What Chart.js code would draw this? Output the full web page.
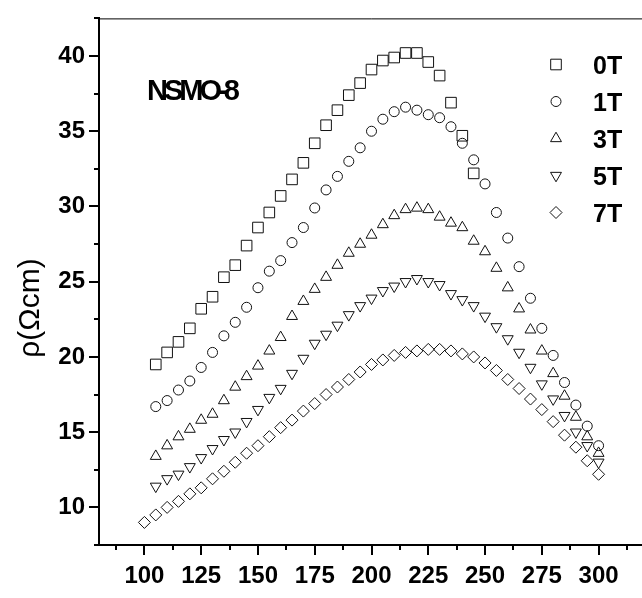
<!DOCTYPE html>
<html>
<head>
<meta charset="utf-8">
<script src="https://cdn.jsdelivr.net/npm/chart.js@4.4.1/dist/chart.umd.min.js"></script>
<style>
html, body { margin: 0; padding: 0; background: #fff; overflow: hidden; }
#caixa { width: 660px; height: 598px; }
</style>
</head>
<body>
<div id="caixa"><canvas id="grafico" width="660" height="598"></canvas></div>
<script>
// Temperatura (K)
const temperaturas = [100, 105, 110, 115, 120, 125, 130, 135, 140, 145, 150, 155, 160, 165, 170, 175, 180, 185, 190, 195,
                      200, 205, 210, 215, 220, 225, 230, 235, 240, 245, 250, 255, 260, 265, 270, 275, 280, 285, 290, 295, 300];

// Resistividade (ohm cm) para cada campo
const rho0T = [null, 19.5, 20.3, 21.0, 21.9, 23.2, 24.0, 25.3, 26.1, 27.4, 28.6, 29.6, 30.7, 31.8, 32.9, 34.2, 35.4, 36.4, 37.4, 38.2,
               39.1, 39.7, 39.9, 40.2, 40.2, 39.6, 38.7, 36.9, 34.7, 32.2, null, null, null, null, null, null, null, null, null, null, null];
const rho1T = [null, 16.7, 17.1, 17.8, 18.4, 19.3, 20.3, 21.4, 22.3, 23.3, 24.6, 25.7, 26.4, 27.6, 28.6, 29.9, 31.1, 32.0, 33.0, 33.9,
               35.0, 35.8, 36.3, 36.6, 36.4, 36.1, 35.9, 35.3, 34.2, 33.1, 31.5, 29.6, 27.9, 26.0, 23.9, 21.9, 20.1, 18.3, 16.8, 15.4, 14.1];
const rho3T = [null, 13.4, 14.1, 14.7, 15.2, 15.8, 16.2, 17.1, 18.0, 18.7, 19.4, 20.4, 21.3, 22.7, 23.7, 24.5, 25.3, 26.1, 26.9, 27.5,
               28.1, 28.8, 29.4, 29.8, 29.9, 29.8, 29.3, 28.9, 28.6, 27.7, 27.0, 25.9, 24.6, 23.2, 21.8, 20.4, 18.9, 17.4, 16.0, 14.7, 13.6];
const rho5T = [null, 11.4, 11.9, 12.2, 12.7, 13.3, 13.9, 14.5, 15.0, 15.7, 16.5, 17.3, 17.9, 18.9, 19.9, 20.9, 21.5, 22.1, 22.8, 23.4,
               23.9, 24.4, 24.7, 25.0, 25.2, 25.0, 24.8, 24.2, 23.8, 23.4, 22.7, 22.0, 21.2, 20.3, 19.3, 18.2, 17.2, 16.1, 15.0, 14.1, 13.0];
const rho7T = [9.0, 9.5, 10.0, 10.4, 10.9, 11.3, 11.9, 12.4, 13.0, 13.6, 14.1, 14.7, 15.3, 15.8, 16.4, 16.9, 17.5, 18.0, 18.5, 19.0,
               19.5, 19.8, 20.1, 20.3, 20.4, 20.5, 20.5, 20.4, 20.2, 20.0, 19.6, 19.1, 18.5, 17.9, 17.2, 16.5, 15.7, 14.8, 14.0, 13.1, 12.2];

const nomesSeries = ['0T', '1T', '3T', '5T', '7T'];

// Marcas dos eixos (maiores com rotulo, menores sem)
const ticksX = [87.5, 100, 112.5, 125, 137.5, 150, 162.5, 175, 187.5, 200, 212.5, 225, 237.5, 250, 262.5, 275, 287.5, 300, 312.5];
const ticksY = [7.5, 10, 12.5, 15, 17.5, 20, 22.5, 25, 27.5, 30, 32.5, 35, 37.5, 40, 42.5];

const fonte = "'Liberation Sans', Arial, sans-serif";

function pontos(valores) {
    const lista = [];
    valores.forEach((v, i) => {
        if (v !== null) lista.push({ x: temperaturas[i], y: v });
    });
    return lista;
}

const estilos = [
    { pointStyle: 'rect',     radius: 7.5, rotation: 0 },
    { pointStyle: 'circle',   radius: 5,   rotation: 0 },
    { pointStyle: 'triangle', radius: 6.3, rotation: 0 },
    { pointStyle: 'triangle', radius: 6.3, rotation: 180 },
    { pointStyle: 'rectRot',  radius: 6,   rotation: 0 }
];

const valores = [rho0T, rho1T, rho3T, rho5T, rho7T];

const datasets = valores.map((serie, i) => ({
    label: nomesSeries[i],
    data: pontos(serie),
    showLine: false,
    pointStyle: estilos[i].pointStyle,
    pointRadius: estilos[i].radius,
    pointRotation: estilos[i].rotation,
    pointBorderWidth: 1,
    pointBorderColor: '#111',
    pointBackgroundColor: 'rgba(0,0,0,0)'
}));

// Desenha marcas, moldura, legenda e textos
const extras = {
    id: 'extras',
    afterDraw(chart) {
        const ctx  = chart.ctx;
        const area = chart.chartArea;
        const sx   = chart.scales.x;
        const sy   = chart.scales.y;

        ctx.save();
        ctx.strokeStyle = '#000';

        // moldura superior e direita
        ctx.lineWidth = 1;
        ctx.beginPath();
        ctx.moveTo(area.left, area.top + 0.5);
        ctx.lineTo(area.right - 0.5, area.top + 0.5);
        ctx.lineTo(area.right - 0.5, area.bottom);
        ctx.stroke();

        // marcas
        ctx.lineWidth = 2;
        sx.ticks.forEach(t => {
            const px  = Math.round(sx.getPixelForValue(t.value));
            const len = t.value % 25 === 0 ? 10 : 5;
            ctx.beginPath();
            ctx.moveTo(px, area.bottom);
            ctx.lineTo(px, area.bottom + len);
            ctx.stroke();
        });
        sy.ticks.forEach(t => {
            const py  = Math.round(sy.getPixelForValue(t.value));
            const len = t.value % 5 === 0 ? 10 : 5;
            ctx.beginPath();
            ctx.moveTo(area.left, py);
            ctx.lineTo(area.left - len, py);
            ctx.stroke();
        });

        // legenda
        nomesSeries.forEach((nome, i) => {
            const y = 64.5 + 37 * i;
            ctx.strokeStyle = '#111';
            ctx.fillStyle = 'rgba(0,0,0,0)';
            ctx.lineWidth = 1;
            Chart.helpers.drawPoint(ctx, {
                pointStyle: estilos[i].pointStyle,
                radius: estilos[i].radius,
                rotation: estilos[i].rotation,
                borderWidth: 1
            }, 556, y);
            ctx.fillStyle = '#000';
            ctx.font = 'bold 25px ' + fonte;
            ctx.textAlign = 'left';
            ctx.textBaseline = 'alphabetic';
            ctx.fillText(nome, 593, y + 9);
        });

        // nome da amostra
        ctx.fillStyle = '#000';
        ctx.font = 'bold 29px ' + fonte;
        ctx.letterSpacing = '-4px';
        ctx.textAlign = 'left';
        ctx.fillText('NSMO-8', 147, 100);
        ctx.letterSpacing = '0px';

        // titulo do eixo y
        ctx.translate(31, 308);
        ctx.rotate(-Math.PI / 2);
        ctx.font = '30px ' + fonte;
        ctx.textAlign = 'center';
        ctx.textBaseline = 'middle';
        ctx.fillText('ρ(Ωcm)', 0, 0);

        ctx.restore();
    }
};

const ctxGrafico = document.getElementById('grafico').getContext('2d');
new Chart(ctxGrafico, {
    type: 'scatter',
    data: { datasets: datasets },
    plugins: [extras],
    options: {
        responsive: false,
        animation: false,
        layout: { padding: { left: 0, top: 9, right: 16, bottom: 0 } },
        plugins: {
            legend:  { display: false },
            tooltip: { enabled: false }
        },
        scales: {
            x: {
                type: 'linear',
                min: 80,
                max: 320,
                afterFit: s => { s.height = 53; },
                afterBuildTicks: s => { s.ticks = ticksX.map(v => ({ value: v })); },
                border: { display: true, width: 2, color: '#000' },
                grid: { display: true, drawOnChartArea: false, drawTicks: true, tickLength: 10,
                        color: 'rgba(0,0,0,0)', tickColor: 'rgba(0,0,0,0)' },
                ticks: {
                    autoSkip: false, maxRotation: 0, minRotation: 0, padding: 7,
                    color: '#000',
                    font: { family: fonte, size: 24, weight: 'bold' },
                    callback: v => (v % 25 === 0 ? String(v) : '')
                }
            },
            y: {
                type: 'linear',
                min: 7.5,
                max: 42.5,
                afterFit: s => { s.width = 99; },
                afterBuildTicks: s => { s.ticks = ticksY.map(v => ({ value: v })); },
                border: { display: true, width: 2, color: '#000' },
                grid: { display: true, drawOnChartArea: false, drawTicks: true, tickLength: 10,
                        color: 'rgba(0,0,0,0)', tickColor: 'rgba(0,0,0,0)' },
                ticks: {
                    autoSkip: false, padding: 4,
                    color: '#000',
                    font: { family: fonte, size: 24, weight: 'bold' },
                    callback: v => (v % 5 === 0 ? String(v) : '')
                }
            }
        }
    }
});
</script>
</body>
</html>
